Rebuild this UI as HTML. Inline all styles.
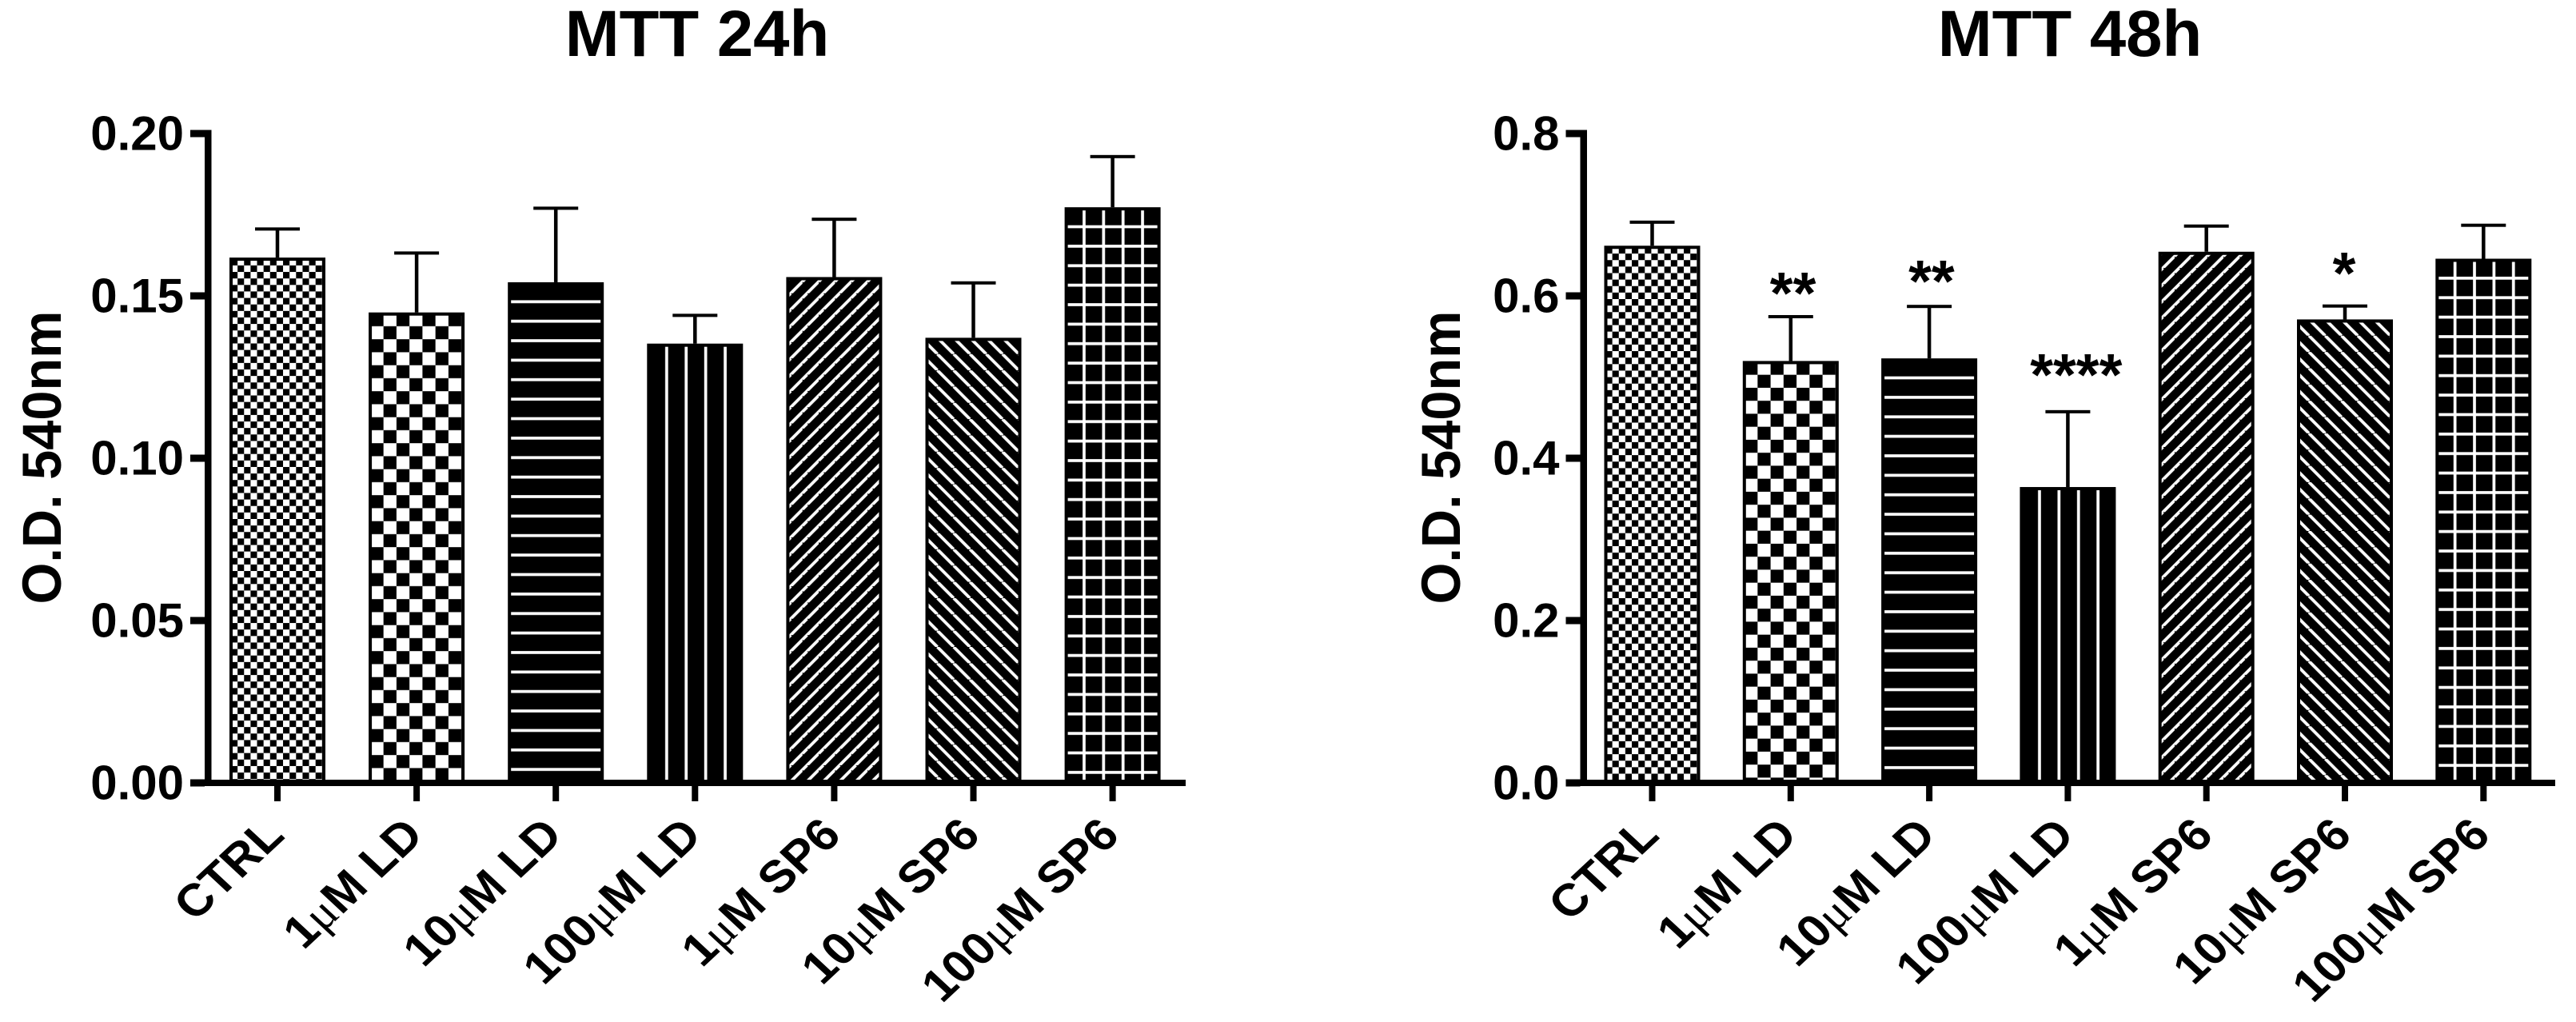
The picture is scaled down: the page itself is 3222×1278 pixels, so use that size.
<!DOCTYPE html>
<html lang="en">
<head>
<meta charset="utf-8">
<title>MTT 24h and 48h</title>
<style>
html,body{margin:0;padding:0;background:#fff;width:3222px;height:1278px;overflow:hidden}
svg{display:block}
text{font-family:"Liberation Sans",Arial,sans-serif;font-weight:700;fill:#000}
</style>
</head>
<body>
<svg id="figure" xmlns="http://www.w3.org/2000/svg" width="3222" height="1278" viewBox="0 0 3222 1278">
  <defs>
    <pattern id="p-fine" patternUnits="userSpaceOnUse" width="16.26" height="16.26" patternTransform="translate(2,1.7)">
      <rect width="16.26" height="16.26" fill="#fff"/>
      <rect width="8.13" height="8.13" fill="#000"/>
      <rect x="8.13" y="8.13" width="8.13" height="8.13" fill="#000"/>
    </pattern>
    <pattern id="p-coarse" patternUnits="userSpaceOnUse" width="32.5" height="32.5" patternTransform="translate(2.3,1)">
      <rect width="32.5" height="32.5" fill="#fff"/>
      <rect width="16.25" height="16.25" fill="#000"/>
      <rect x="16.25" y="16.25" width="16.25" height="16.25" fill="#000"/>
    </pattern>
    <pattern id="p-hlines" patternUnits="userSpaceOnUse" width="40" height="24.37">
      <rect width="40" height="24.37" fill="#000"/>
      <rect y="22.5" width="40" height="3.7" fill="#fff"/>
      <rect y="-1.87" width="40" height="3.7" fill="#fff"/>
    </pattern>
    <pattern id="p-vlines" patternUnits="userSpaceOnUse" width="24.4" height="40">
      <rect width="24.4" height="40" fill="#000"/>
      <rect x="22.7" width="3.7" height="40" fill="#fff"/>
      <rect x="-1.7" width="3.7" height="40" fill="#fff"/>
    </pattern>
    <pattern id="p-grid" patternUnits="userSpaceOnUse" width="24.37" height="24.37">
      <rect width="24.37" height="24.37" fill="#000"/>
      <rect y="22.5" width="24.37" height="3.7" fill="#fff"/>
      <rect y="-1.87" width="24.37" height="3.7" fill="#fff"/>
      <rect x="22.5" width="3.7" height="24.37" fill="#fff"/>
      <rect x="-1.87" width="3.7" height="24.37" fill="#fff"/>
    </pattern>
    <pattern id="p-slash" patternUnits="userSpaceOnUse" width="20.35" height="20.35">
      <rect width="20.35" height="20.35" fill="#000"/>
      <path d="M5.65 0L0 5.65M26 0L0 26M46.35 0L0 46.35" stroke="#fff" stroke-width="3.8" fill="none"/>
    </pattern>
    <pattern id="p-backslash" patternUnits="userSpaceOnUse" width="20.35" height="20.35">
      <rect width="20.35" height="20.35" fill="#000"/>
      <path d="M15 0L35.35 20.35M-5.35 0L15 20.35M-25.7 0L-5.35 20.35" stroke="#fff" stroke-width="3.8" fill="none"/>
    </pattern>
  </defs>

  <rect width="3222" height="1278" fill="#fff"/>

  <g id="chart-24h">
    <text x="872" y="70" font-size="81.5" text-anchor="middle">MTT 24h</text>
    <text transform="translate(76,572) rotate(-90)" font-size="69" text-anchor="middle" textLength="367" lengthAdjust="spacingAndGlyphs">O.D. 540nm</text>
  </g>
  <g id="chart-48h">
    <text x="2589" y="70" font-size="81.5" text-anchor="middle">MTT 48h</text>
    <text transform="translate(1826,572) rotate(-90)" font-size="69" text-anchor="middle" textLength="367" lengthAdjust="spacingAndGlyphs">O.D. 540nm</text>
  </g>
</svg>

<script>
const categories = ['CTRL', '1μM LD', '10μM LD', '100μM LD', '1μM SP6', '10μM SP6', '100μM SP6'];
const barPatterns = ['p-fine', 'p-coarse', 'p-hlines', 'p-vlines', 'p-slash', 'p-backslash', 'p-grid'];

const means24h = [0.1618, 0.1449, 0.1542, 0.1353, 0.1558, 0.1371, 0.1773];
const errors24h = [0.0088, 0.0183, 0.0228, 0.0087, 0.0178, 0.0169, 0.0156];
const yTicks24h = [0, 0.05, 0.10, 0.15, 0.20];
const yTickLabels24h = ['0.00', '0.05', '0.10', '0.15', '0.20'];

const means48h = [0.6618, 0.5198, 0.523, 0.3645, 0.6544, 0.571, 0.6458];
const errors48h = [0.029, 0.0546, 0.064, 0.0928, 0.0316, 0.0165, 0.0412];
const yTicks48h = [0, 0.2, 0.4, 0.6, 0.8];
const yTickLabels48h = ['0.0', '0.2', '0.4', '0.6', '0.8'];
const significance48h = ['', '**', '**', '****', '', '*', ''];
const significanceLevel48h = [0, 0.607, 0.6217, 0.5064, 0, 0.6315, 0];

const SVG_NS = 'http://www.w3.org/2000/svg';
const AXIS_Y0 = 979;
const AXIS_SPAN = 812;

function make(parent, tag, attrs) {
  const el = document.createElementNS(SVG_NS, tag);
  for (const k in attrs) el.setAttribute(k, attrs[k]);
  parent.appendChild(el);
  return el;
}

function slug(s) {
  return s.replace(/μ/g, 'u').replace(/\s+/g, '-').toLowerCase();
}

function drawChart(opts) {
  const root = document.getElementById(opts.id);
  const yScale = v => AXIS_Y0 - (v / opts.yMax) * AXIS_SPAN;
  const xScale = i => opts.x0 + opts.step * i;

  opts.means.forEach((m, i) => {
    const cat = slug(categories[i]);
    const left = xScale(i) - 60;
    const top = yScale(m);
    const capY = yScale(m + opts.errors[i]);

    const stem = make(root, 'rect', {x: xScale(i) - 2.25, y: capY, width: 4.5, height: top - capY, fill: '#000'});
    
    

    const cap = make(root, 'rect', {x: xScale(i) - 28, y: capY - 2, width: 56, height: 4, fill: '#000'});
    
    

    const outer = make(root, 'rect', {x: left, y: top, width: 120, height: 976 - top, fill: '#000'});
    
    

    const fill = make(root, 'rect', {x: 4, y: 4, width: 112, height: 976 - top - 4, fill: 'url(#' + barPatterns[i] + ')', transform: 'translate(' + left + ',' + top + ')'});
    
    
  });

  const yLine = make(root, 'rect', {x: opts.axisX, y: yScale(opts.yMax) - 4.5, width: 8.5, height: AXIS_Y0 - yScale(opts.yMax) + 4.5, fill: '#000'});
  
  

  const xLine = make(root, 'rect', {x: opts.axisX - 18, y: 975, width: opts.axisEnd - opts.axisX + 18, height: 8, fill: '#000'});
  
  

  opts.ticks.forEach((t, i) => {
    const mark = make(root, 'rect', {x: opts.axisX - 18, y: yScale(t) - 4.5, width: 18, height: 9, fill: '#000'});
    
    

    const label = make(root, 'text', {x: opts.axisX - 26, y: yScale(t) + 20.5, 'font-size': 60, 'text-anchor': 'end'});
    label.textContent = opts.tickLabels[i];
    
    
  });

  categories.forEach((c, i) => {
    const mark = make(root, 'rect', {x: xScale(i) - 4, y: 982, width: 8, height: 20, fill: '#000'});
    
    

    const label = make(root, 'text', {
      transform: 'translate(' + (xScale(i) + 11) + ',1047) scale(1,0.93) rotate(-45)',
      'font-size': 61,
      'text-anchor': 'end'
    });
    
    
    c.split(/(μ)/).forEach(part => {
      if (!part) return;
      const span = make(label, 'tspan', {});
      span.textContent = part;
      if (part === 'μ') {
        span.setAttribute('style', 'font-family:"Liberation Serif",serif;font-weight:400');
      }
    });
  });

  if (opts.significance) {
    opts.significance.forEach((s, i) => {
      if (!s) return;
      const star = make(root, 'text', {
        x: xScale(i) + 3.8 * (s.length - 1) - 1,
        y: yScale(opts.significanceLevel[i]) + 29,
        'font-size': 74,
        'text-anchor': 'middle'
      });
      star.textContent = s;
      
      
    });
  }
}

drawChart({
  id: 'chart-24h', tag: '24h', yMax: 0.2, x0: 347, step: 174.1,
  axisX: 256, axisEnd: 1483,
  means: means24h, errors: errors24h, ticks: yTicks24h, tickLabels: yTickLabels24h
});
drawChart({
  id: 'chart-48h', tag: '48h', yMax: 0.8, x0: 2066.5, step: 173.3,
  axisX: 1976.5, axisEnd: 3196,
  means: means48h, errors: errors48h, ticks: yTicks48h, tickLabels: yTickLabels48h,
  significance: significance48h, significanceLevel: significanceLevel48h
});
</script>
</body>
</html>
